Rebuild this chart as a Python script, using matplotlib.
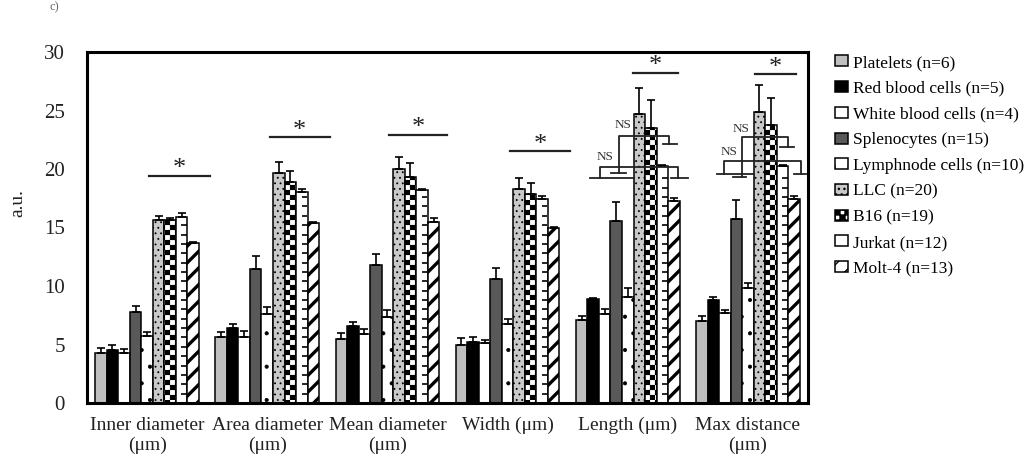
import warnings
import numpy as np
import matplotlib
matplotlib.use("Agg")
import matplotlib.pyplot as plt
import matplotlib.hatch as mhatch
from matplotlib.path import Path

warnings.filterwarnings("ignore")


# checkerboard fill used for the B16 bars (hatch letter 'c')
class CheckerHatch(mhatch.HatchPatternBase):
    def __init__(self, hatch, density):
        self.n = hatch.count('c') * 20
        self.num_vertices = (self.n * self.n // 2) * 5

    def set_vertices_and_codes(self, vertices, codes):
        n = self.n
        s = 1.0 / n
        k = 0
        for i in range(n):
            for j in range(n):
                if (i + j) % 2:
                    continue
                x0, y0 = i * s, j * s
                vertices[k:k + 5] = [(x0, y0), (x0 + s, y0), (x0 + s, y0 + s),
                                     (x0, y0 + s), (x0, y0)]
                codes[k] = Path.MOVETO
                codes[k + 1:k + 4] = Path.LINETO
                codes[k + 4] = Path.CLOSEPOLY
                k += 5


mhatch._hatch_types.append(CheckerHatch)

plt.rcParams['font.family'] = ['Liberation Serif', 'DejaVu Serif']

categories = ["Inner diameter\n(μm)", "Area diameter\n(μm)", "Mean diameter\n(μm)",
              "Width (μm)", "Length (μm)", "Max distance\n(μm)"]
cell_types = ["Platelets (n=6)", "Red blood cells (n=5)", "White blood cells (n=4)",
              "Splenocytes (n=15)", "Lymphnode cells (n=10)", "LLC (n=20)",
              "B16 (n=19)", "Jurkat (n=12)", "Molt-4 (n=13)"]

platelets = [4.3, 5.6, 5.5, 4.95, 7.1, 7.0]
platelets_err = [0.4, 0.45, 0.5, 0.6, 0.35, 0.45]
rbc = [4.5, 6.4, 6.6, 5.2, 8.9, 8.8]
rbc_err = [0.45, 0.35, 0.3, 0.45, 0.1, 0.25]
wbc = [4.3, 5.65, 5.9, 5.1, 7.6, 7.7]
wbc_err = [0.3, 0.5, 0.4, 0.3, 0.4, 0.25]
splenocytes = [7.8, 11.45, 11.8, 10.6, 15.55, 15.7]
splenocytes_err = [0.5, 1.15, 0.9, 0.9, 1.65, 1.65]
lymphnode = [5.7, 7.6, 7.35, 6.75, 9.05, 9.85]
lymphnode_err = [0.35, 0.6, 0.6, 0.4, 0.75, 0.4]
llc = [15.6, 19.7, 20.0, 18.3, 24.7, 24.9]
llc_err = [0.4, 0.9, 1.0, 0.9, 2.2, 2.3]
b16 = [15.6, 18.9, 19.3, 17.85, 23.5, 23.75]
b16_err = [0.2, 0.9, 1.2, 0.95, 2.4, 2.3]
jurkat = [15.9, 18.0, 18.2, 17.4, 20.25, 20.25]
jurkat_err = [0.3, 0.3, 0.1, 0.3, 0.1, 0.1]
molt4 = [13.7, 15.4, 15.5, 14.95, 17.25, 17.4]
molt4_err = [0.1, 0.1, 0.3, 0.1, 0.25, 0.3]

means = [platelets, rbc, wbc, splenocytes, lymphnode, llc, b16, jurkat, molt4]
errors = [platelets_err, rbc_err, wbc_err, splenocytes_err, lymphnode_err,
          llc_err, b16_err, jurkat_err, molt4_err]

# "*" significance bars above the tumour-cell bars
sig_level = [19.4, 22.7, 22.9, 21.5, 28.2, 28.1]
sig_from = [0.02, 0.02, 0.01, 0.02, 0.04, 0.06]
sig_to = [0.52, 0.52, 0.50, 0.52, 0.42, 0.40]

# "NS" brackets on Length and Max distance
ns_group = [4, 4, 5, 5]
ns_level = [22.8, 20.2, 22.7, 20.7]
ns_legs = [(-0.075, 0.34), (-0.23, 0.42), (-0.05, 0.33), (-0.2, 0.44)]
ns_foot = [(19.65, 22.1), (19.2, 19.2), (19.3, 21.9), (19.6, 19.6)]
ns_cap_left = [(-0.14, -0.017), (-0.31, 0.05), (-0.12, -0.02), (-0.26, 0.05)]
ns_cap_right = [(0.29, 0.41), (0.36, 0.5), (0.27, 0.38), (0.38, 0.48)]
ns_label = [(-0.04, 23.8), (-0.19, 21.0), (-0.06, 23.4), (-0.16, 21.45)]

faces = ['#bfbfbf', 'black', 'white', '#595959', 'white', '#c9c9c9', 'white', 'white', 'white']
hatches = [None, None, None, None, '.', '...', 'c', None, '//']
hatch_lw = [1.0, 1.0, 1.0, 1.0, 0.5, 0.6, 0.1, 1.0, 2.4]

fig = plt.figure(figsize=(10.35, 4.62), dpi=100)
ax = fig.add_axes([87 / 1035, 59 / 462, 721 / 1035, 351 / 462])

x = np.arange(len(categories))
w = 0.096
handles = []
for i, (vals, errs) in enumerate(zip(means, errors)):
    pos = x + (i - 4) * w
    with plt.rc_context({'hatch.linewidth': hatch_lw[i]}):
        bars = ax.bar(pos, vals, w, color=faces[i], edgecolor='black', linewidth=1.1,
                      hatch=hatches[i], label=cell_types[i], zorder=2)
    for b in bars:
        if hasattr(b, 'set_hatch_linewidth'):
            b.set_hatch_linewidth(hatch_lw[i])
    ax.errorbar(pos, vals, yerr=[np.zeros(len(errs)), errs], fmt='none',
                ecolor='black', elinewidth=1.2, capsize=3.2, capthick=1.2, zorder=3)
    handles.append(bars)

# short dashes on the right half of the Jurkat bars
for k, h in enumerate(jurkat):
    cx = x[k] + 3 * w
    levels = np.arange(0.8, h - 0.3, 0.8)
    ax.hlines(levels, cx - 0.03 * w, cx + 0.45 * w, color='black', linewidth=1.2, zorder=2.5)

for k in range(len(categories)):
    ax.plot([x[k] + sig_from[k], x[k] + sig_to[k]], [sig_level[k]] * 2,
            color='#222222', linewidth=1.6, zorder=4)
    ax.text(x[k] + (sig_from[k] + sig_to[k]) / 2, sig_level[k] + 0.05, '*',
            ha='center', va='baseline', fontsize=19, color='#222222', zorder=4)

for g, lvl, (xl, xr), (fl, fr), cl, cr, (tx, ty) in zip(
        ns_group, ns_level, ns_legs, ns_foot, ns_cap_left, ns_cap_right, ns_label):
    c = x[g]
    ax.plot([c + xl, c + xl, c + xr, c + xr], [fl, lvl, lvl, fr],
            color='#222222', linewidth=1.3, zorder=4)
    ax.plot([c + cl[0], c + cl[1]], [fl, fl], color='#222222', linewidth=1.3, zorder=4)
    ax.plot([c + cr[0], c + cr[1]], [fr, fr], color='#222222', linewidth=1.3, zorder=4)
    ax.text(c + tx, ty, 'NS', ha='center', va='center', fontsize=9.5,
            color='#333333', zorder=4)

ax.set_xlim(-0.5, len(categories) - 0.5)
ax.set_ylim(0, 30)
ax.set_yticks(range(0, 31, 5))
ax.set_xticks(x)
ax.set_xticklabels(categories, fontsize=14, color='#222222')
ax.tick_params(axis='y', length=0, pad=16, labelsize=15, labelcolor='#222222')
ax.tick_params(axis='x', length=0, pad=10)
for s in ax.spines.values():
    s.set_linewidth(2.2)

fig.text(18 / 1035, 1 - 203 / 462, 'a.u.', rotation=90, fontsize=14,
         ha='center', va='center', color='#222222')

fig.legend(handles, cell_types, loc='upper left', bbox_to_anchor=(835 / 1035, 1 - 55 / 462),
           frameon=False, fontsize=12.5, handlelength=0.75, handleheight=0.6,
           handletextpad=0.3, labelspacing=0.56, borderaxespad=0, borderpad=0)

fig.text(54 / 1035, 1 - 1 / 462, 'c)', fontsize=9, ha='center', va='top', color='#666666')

fig.savefig('out.png', dpi=100)
